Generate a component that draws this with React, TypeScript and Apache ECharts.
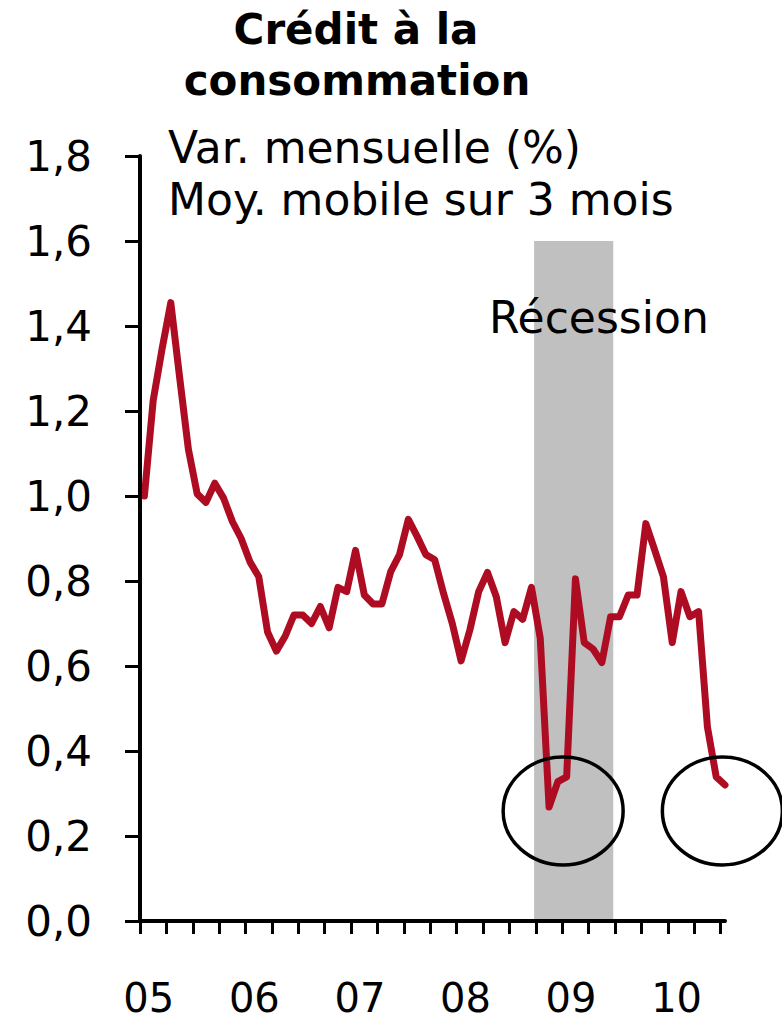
import React, { useEffect, useRef } from "react";
import * as echarts from "echarts";

// Monthly values, Jan 2005 .. Jul 2010 (3-month moving average of monthly % change)
const creditValues = [
  1.0, 1.225, 1.345, 1.455, 1.28, 1.11, 1.005, 0.985, 1.03, 0.995, 0.94, 0.9,
  0.845, 0.81, 0.68, 0.635, 0.67, 0.72, 0.72, 0.7, 0.74, 0.69, 0.785, 0.775,
  0.872, 0.767, 0.746, 0.746, 0.822, 0.862, 0.945, 0.905, 0.862, 0.85, 0.771, 0.7,
  0.612, 0.685, 0.775, 0.82, 0.763, 0.655, 0.728, 0.71, 0.785, 0.665, 0.268, 0.328,
  0.339, 0.805, 0.655, 0.64, 0.608, 0.716, 0.716, 0.767, 0.767, 0.935, 0.873, 0.81,
  0.655, 0.775, 0.716, 0.728, 0.457, 0.339, 0.32,
];

const yearLabels = ["05", "06", "07", "08", "09", "10"];
const yearLabelPositions = [1, 13, 25, 37, 49, 61];
const quarterTicks = [0, 3, 6, 9, 12, 15, 18, 21, 24, 27, 30, 33, 36, 39, 42, 45, 48, 51, 54, 57, 60, 63, 66];

const recessionRange = [44.8, 53.8];
const recessionTop = 1.6;
const circleCenters = [
  [48.1, 0.259],
  [66.2, 0.259],
];

const FONT = "DejaVu Sans";

export default function App() {
  const ref = useRef<HTMLDivElement>(null);

  useEffect(() => {
    if (!ref.current) return;
    const chart = echarts.init(ref.current, null, { renderer: "svg" });
    const seriesData = creditValues.map((v, i) => [i + 0.5, v]);

    const textItem = (text: string, x: number, y: number, font: string, align: string) => ({
      type: "text",
      x,
      y,
      z: 100,
      style: { text, font, fill: "#000", textAlign: align, textVerticalAlign: "middle" },
    });

    const baseGraphic: any[] = [
      textItem("Crédit à la", 356, 29, `bold 42px '${FONT}'`, "center"),
      textItem("consommation", 357, 80, `bold 42px '${FONT}'`, "center"),
      textItem("Var. mensuelle (%)", 168, 147, `44px '${FONT}'`, "left"),
      textItem("Moy. mobile sur 3 mois", 168, 199, `44px '${FONT}'`, "left"),
      textItem("Récession", 489, 317, `44px '${FONT}'`, "left"),
    ];

    chart.setOption({
      animation: false,
      backgroundColor: "#fff",
      grid: { left: 140, right: 57, top: 156, bottom: 102, containLabel: false },
      xAxis: {
        type: "value",
        min: 0,
        max: 66.5,
        z: 10,
        axisLine: { show: true, onZero: false, lineStyle: { color: "#000", width: 4 } },
        axisTick: { show: true, customValues: quarterTicks, length: 13, lineStyle: { color: "#000", width: 3 } },
        axisLabel: {
          customValues: yearLabelPositions,
          formatter: (v: number) => {
            const idx = yearLabelPositions.indexOf(Math.round(v));
            return idx >= 0 ? yearLabels[idx] : "";
          },
          fontFamily: FONT,
          fontSize: 40,
          lineHeight: 38,
          color: "#000",
          margin: 58,
        },
        splitLine: { show: false },
      },
      yAxis: {
        type: "value",
        min: 0,
        max: 1.8,
        interval: 0.2,
        z: 10,
        axisLine: { show: true, lineStyle: { color: "#000", width: 4 } },
        axisTick: { show: true, length: 15, lineStyle: { color: "#000", width: 3 } },
        axisLabel: {
          formatter: (v: number) => v.toFixed(1).replace(".", ","),
          fontFamily: FONT,
          fontSize: 42,
          color: "#000",
          margin: 48,
        },
        splitLine: { show: false },
      },
      series: [
        {
          type: "line",
          data: seriesData,
          showSymbol: false,
          symbol: "none",
          lineStyle: { color: "#AE0C22", width: 7, cap: "round", join: "round" },
          markArea: {
            silent: true,
            itemStyle: { color: "#C0C0C0" },
            data: [[{ xAxis: recessionRange[0], yAxis: 0 }, { xAxis: recessionRange[1], yAxis: recessionTop }]],
          },
          z: 2,
        },
      ],
      graphic: baseGraphic,
    });

    const ellipses = circleCenters.map((c) => {
      const p = chart.convertToPixel({ gridIndex: 0 }, c) as number[];
      return {
        type: "ellipse",
        z: 20,
        shape: { cx: p[0], cy: p[1], rx: 60, ry: 54 },
        style: { fill: "none", stroke: "#000", lineWidth: 3.5 },
      };
    });
    chart.setOption({ graphic: [...baseGraphic, ...ellipses] });

    return () => chart.dispose();
  }, []);

  return <div ref={ref} style={{ position: "fixed", left: 0, top: 0, width: 782, height: 1023 }} />;
}
